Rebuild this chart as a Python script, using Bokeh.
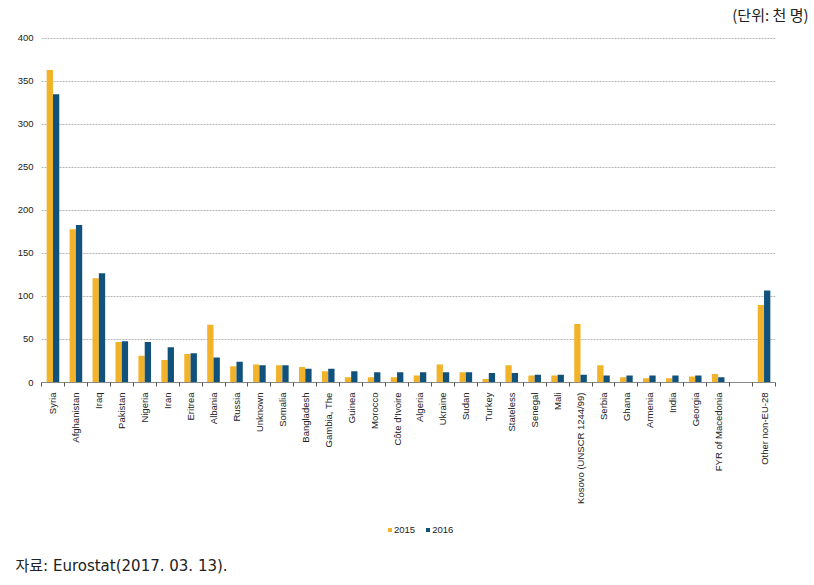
import math
from bokeh.plotting import figure
from bokeh.layouts import column
from bokeh.models import (Range1d, FixedTicker, Legend, LegendItem, Title,
                          ColumnDataSource)
from bokeh.embed import file_html
from bokeh.resources import INLINE

categories = ["Syria", "Afghanistan", "Iraq", "Pakistan", "Nigeria", "Iran", "Eritrea",
              "Albania", "Russia", "Unknown", "Somalia", "Bangladesh", "Gambia, The",
              "Guinea", "Morocco", "Côte d'Ivoire", "Algeria", "Ukraine", "Sudan", "Turkey",
              "Stateless", "Senegal", "Mali", "Kosovo (UNSCR 1244/99)", "Serbia", "Ghana",
              "Armenia", "India", "Georgia", "FYR of Macedonia", "", "Other non-EU-28"]
v2015 = [363, 178, 121, 47, 31, 26, 33, 67, 19, 21, 20, 18, 13, 6, 6, 6, 8, 21, 12, 4,
         20, 8, 8, 68, 20, 6, 5, 5, 7, 10, None, 90]
v2016 = [335, 183, 127, 48, 47, 41, 34, 29, 24, 20, 20, 16, 16, 13, 12, 12, 12, 12, 12, 11,
         11, 9, 9, 9, 8, 8, 8, 8, 8, 6, None, 107]
y_ticks = [0, 50, 100, 150, 200, 250, 300, 350, 400]
series_names = ["2015", "2016"]
colors = ["#F2B32A", "#11527C"]
unit_text = "(단위: 천 명)"
source_text = "자료: Eurostat(2017. 03. 13)."

FONT = "Liberation Sans"
BAR_W = 0.275

n = len(categories)
pos = list(range(1, n + 1))


def blank_fig(h):
    fig = figure(width=814, height=h, x_range=Range1d(0, 1), y_range=Range1d(0, 1),
                 output_backend="svg", toolbar_location=None,
                 x_axis_location=None, y_axis_location=None,
                 min_border_left=0, min_border_right=0, min_border_top=0,
                 min_border_bottom=0)
    fig.outline_line_color = None
    fig.grid.visible = False
    return fig


# header with unit note (frame is aligned with the chart frame; title sits in its panel)
hdr = blank_fig(32)
hdr.add_layout(Title(text=unit_text, align="right", offset=-33, vertical_align="middle",
                     text_font="Noto Sans CJK KR", text_font_size="15px",
                     text_font_style="normal", text_color="#222222", standoff=4), "above")

# main chart
p = figure(width=814, height=480, x_range=Range1d(0.5, n + 0.5), y_range=Range1d(0, 402),
           output_backend="svg", toolbar_location=None,
           min_border_left=41, min_border_right=39, min_border_top=4, min_border_bottom=130)
p.outline_line_color = None
p.background_fill_color = "white"
p.xgrid.visible = False

for k, (vals, col) in enumerate(zip([v2015, v2016], colors)):
    xs, tops = [], []
    for i, v in enumerate(vals):
        if v is None:
            continue
        xs.append(pos[i] + (k - 0.5) * BAR_W)
        tops.append(v)
    src = ColumnDataSource(dict(x=xs, top=tops))
    p.vbar(x="x", top="top", bottom=0, width=BAR_W, source=src,
           fill_color=col, line_color=None)

xa = p.xaxis[0]
xa.ticker = FixedTicker(ticks=[pos[i] for i, c in enumerate(categories) if c],
                        minor_ticks=[i + 0.5 for i in range(n + 1)])
xa.major_label_overrides = {pos[i]: c for i, c in enumerate(categories) if c}
xa.major_label_orientation = math.pi / 2
xa.major_tick_line_color = None
xa.major_tick_out = 0
xa.major_tick_in = 0
xa.minor_tick_out = 4
xa.minor_tick_in = 0
xa.minor_tick_line_color = "#555555"
xa.axis_line_color = "#888888"
xa.major_label_standoff = 6
xa.major_label_text_font = FONT
xa.major_label_text_font_size = "9.5px"
xa.major_label_text_color = "#222222"

ya = p.yaxis[0]
ya.ticker = FixedTicker(ticks=y_ticks)
ya.axis_line_color = None
ya.major_tick_line_color = None
ya.minor_tick_line_color = None
ya.major_tick_out = 0
ya.major_label_standoff = 8
ya.major_label_text_font = FONT
ya.major_label_text_font_size = "9.5px"
ya.major_label_text_color = "#222222"

p.ygrid.ticker = FixedTicker(ticks=y_ticks)
p.ygrid.grid_line_color = "#b4b4b4"
p.ygrid.grid_line_dash = "2 1"

# footer: legend (in frame) and source note (title panel below)
f = blank_fig(73)
leg_src = ColumnDataSource(dict(x=[float("nan")], top=[float("nan")]))
leg_renderers = [f.vbar(x="x", top="top", width=1, source=leg_src,
                        fill_color=c, line_color=None) for c in colors]
legend = Legend(items=[LegendItem(label=s, renderers=[r])
                       for s, r in zip(series_names, leg_renderers)],
                location=(346, 10), orientation="horizontal",
                glyph_width=5, glyph_height=5, label_height=12, label_standoff=2,
                spacing=10, padding=0, margin=0, border_line_color=None,
                background_fill_alpha=0, label_text_font=FONT,
                label_text_font_size="9.5px", label_text_color="#222222")
f.add_layout(legend)
f.add_layout(Title(text=source_text, align="left", offset=-26, vertical_align="middle",
                   text_font="DejaVu Sans, Noto Sans CJK KR", text_font_size="15px",
                   text_font_style="normal", text_color="#222222", standoff=20), "below")

layout = column(hdr, p, f, spacing=0)
open("out.html", "w").write(file_html(layout, INLINE))
